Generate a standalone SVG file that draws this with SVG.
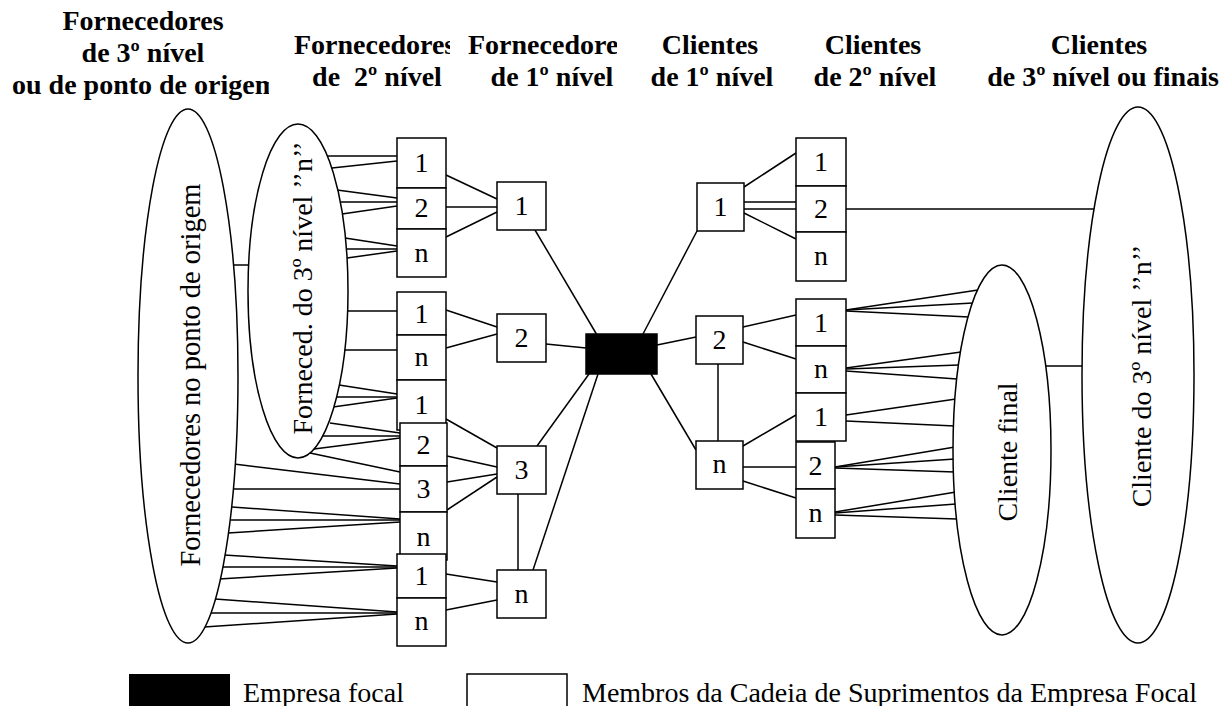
<svg xmlns="http://www.w3.org/2000/svg" width="1228" height="706" viewBox="0 0 1228 706">
<style>
.ln{stroke:#000;stroke-width:1.5;fill:none}
.bx{fill:#fff;stroke:#000;stroke-width:1.5}
.el{fill:#fff;stroke:#000;stroke-width:1.5}
.t{font-family:"Liberation Serif","Times New Roman",serif;font-size:28px;fill:#000}
.c{text-anchor:middle}
.h{font-weight:bold}
</style>
<defs>
<clipPath id="clip1"><rect x="0" y="0" width="269" height="110"/></clipPath>
<clipPath id="clip2"><rect x="280" y="0" width="170" height="110"/></clipPath>
<clipPath id="clip3"><rect x="460" y="0" width="157" height="110"/></clipPath>
</defs>
<rect width="1228" height="706" fill="#fff"/>

<g id="headers">
<text class="t h c" x="143" y="30">Fornecedores</text>
<text class="t h c" x="143" y="62">de 3º nível</text>
<text class="t h c" x="145" y="94" clip-path="url(#clip1)">ou de ponto de origem</text>
<text class="t h" x="294" y="54" clip-path="url(#clip2)">Fornecedores</text>
<text class="t h c" x="377" y="86" style="white-space:pre">de  2º nível</text>
<text class="t h" x="468" y="54" clip-path="url(#clip3)">Fornecedores</text>
<text class="t h c" x="552" y="86">de 1º nível</text>
<text class="t h c" x="710" y="54">Clientes</text>
<text class="t h c" x="712" y="86">de 1º nível</text>
<text class="t h c" x="873" y="54">Clientes</text>
<text class="t h c" x="875" y="86">de 2º nível</text>
<text class="t h c" x="1099" y="54">Clientes</text>
<text class="t h c" x="1103" y="86">de 3º nível ou finais</text>
</g>

<g id="connectors">
<line class="ln" x1="233" y1="265" x2="250" y2="265"/>
<line class="ln" x1="327" y1="156" x2="397" y2="156"/>
<line class="ln" x1="332" y1="168" x2="397" y2="161"/>
<line class="ln" x1="337" y1="190" x2="397" y2="198"/>
<line class="ln" x1="340" y1="202" x2="397" y2="202"/>
<line class="ln" x1="342" y1="214" x2="397" y2="206"/>
<line class="ln" x1="345" y1="238" x2="397" y2="246"/>
<line class="ln" x1="346" y1="249" x2="397" y2="249"/>
<line class="ln" x1="347" y1="258" x2="397" y2="251"/>
<line class="ln" x1="346" y1="311" x2="397" y2="311"/>
<line class="ln" x1="344" y1="350" x2="397" y2="350"/>
<line class="ln" x1="339" y1="385" x2="397" y2="394"/>
<line class="ln" x1="336" y1="397" x2="397" y2="397"/>
<line class="ln" x1="333" y1="407" x2="397" y2="398"/>
<line class="ln" x1="330" y1="423" x2="400" y2="433"/>
<line class="ln" x1="323" y1="436" x2="400" y2="436"/>
<line class="ln" x1="314" y1="449" x2="400" y2="438"/>
<line class="ln" x1="310" y1="453" x2="400" y2="472"/>
<line class="ln" x1="234" y1="464" x2="400" y2="484"/>
<line class="ln" x1="233" y1="489" x2="400" y2="489"/>
<line class="ln" x1="232" y1="507" x2="400" y2="519"/>
<line class="ln" x1="231" y1="520" x2="400" y2="520"/>
<line class="ln" x1="228" y1="533" x2="400" y2="522"/>
<line class="ln" x1="224" y1="555" x2="397" y2="566"/>
<line class="ln" x1="222" y1="567" x2="397" y2="567"/>
<line class="ln" x1="219" y1="579" x2="397" y2="568"/>
<line class="ln" x1="215" y1="599" x2="397" y2="612"/>
<line class="ln" x1="210" y1="613" x2="397" y2="613"/>
<line class="ln" x1="204" y1="627" x2="397" y2="614"/>
<line class="ln" x1="446" y1="175" x2="497" y2="199"/>
<line class="ln" x1="446" y1="207" x2="497" y2="207"/>
<line class="ln" x1="446" y1="237" x2="497" y2="212"/>
<line class="ln" x1="446" y1="310" x2="497" y2="327"/>
<line class="ln" x1="446" y1="348" x2="497" y2="334"/>
<line class="ln" x1="446" y1="419" x2="497" y2="448"/>
<line class="ln" x1="447" y1="456" x2="497" y2="467"/>
<line class="ln" x1="447" y1="482" x2="497" y2="474"/>
<line class="ln" x1="447" y1="510" x2="497" y2="477"/>
<line class="ln" x1="446" y1="574" x2="497" y2="582"/>
<line class="ln" x1="446" y1="610" x2="497" y2="600"/>
<line class="ln" x1="518" y1="494" x2="518" y2="570"/>
<line class="ln" x1="535" y1="230" x2="597" y2="335"/>
<line class="ln" x1="546" y1="344" x2="586" y2="348"/>
<line class="ln" x1="537" y1="446" x2="589" y2="374"/>
<line class="ln" x1="533" y1="570" x2="598" y2="374"/>
<line class="ln" x1="643" y1="334" x2="697" y2="231"/>
<line class="ln" x1="657" y1="345" x2="696" y2="337"/>
<line class="ln" x1="651" y1="374" x2="696" y2="450"/>
<line class="ln" x1="718" y1="364" x2="718" y2="441"/>
<line class="ln" x1="744" y1="187" x2="796" y2="153"/>
<line class="ln" x1="744" y1="202" x2="796" y2="202"/>
<line class="ln" x1="744" y1="209" x2="796" y2="209"/>
<line class="ln" x1="744" y1="213" x2="796" y2="239"/>
<line class="ln" x1="743" y1="327" x2="796" y2="315"/>
<line class="ln" x1="743" y1="342" x2="796" y2="359"/>
<line class="ln" x1="743" y1="446" x2="796" y2="415"/>
<line class="ln" x1="743" y1="467" x2="796" y2="467"/>
<line class="ln" x1="743" y1="481" x2="796" y2="498"/>
<line class="ln" x1="846" y1="209" x2="1096" y2="209"/>
<line class="ln" x1="1044" y1="366" x2="1084" y2="366"/>
<line class="ln" x1="846" y1="310" x2="978" y2="290"/>
<line class="ln" x1="846" y1="310" x2="973" y2="303"/>
<line class="ln" x1="846" y1="311" x2="969" y2="317"/>
<line class="ln" x1="846" y1="368" x2="961" y2="352"/>
<line class="ln" x1="846" y1="369" x2="959" y2="365"/>
<line class="ln" x1="846" y1="371" x2="957" y2="379"/>
<line class="ln" x1="846" y1="415" x2="956" y2="399"/>
<line class="ln" x1="846" y1="421" x2="955" y2="426"/>
<line class="ln" x1="835" y1="467" x2="955" y2="447"/>
<line class="ln" x1="835" y1="467" x2="955" y2="459"/>
<line class="ln" x1="835" y1="468" x2="955" y2="472"/>
<line class="ln" x1="835" y1="512" x2="956" y2="492"/>
<line class="ln" x1="835" y1="513" x2="956" y2="504"/>
<line class="ln" x1="835" y1="515" x2="957" y2="519"/>
</g>

<g id="origem">
<ellipse class="el" cx="188" cy="376" rx="50" ry="267"/>
<text class="t c" transform="translate(200,375) rotate(-90)" style="font-size:28.5px">Fornecedores no ponto de origem</text>
</g>
<g id="fornec3n">
<ellipse class="el" cx="298" cy="291" rx="50" ry="167"/>
<text class="t c" transform="translate(312,288) rotate(-90)">Forneced. do 3º nível ’’n’’</text>
</g>

<g id="f2a">
<rect class="bx" x="397" y="138" width="49" height="50"/>
<rect class="bx" x="397" y="188" width="49" height="41"/>
<rect class="bx" x="397" y="229" width="49" height="48"/>
<text class="t c" x="421.5" y="172">1</text>
<text class="t c" x="421.5" y="217">2</text>
<text class="t c" x="421.5" y="262">n</text>
</g>
<g id="f2b">
<rect class="bx" x="397" y="292" width="49" height="43"/>
<rect class="bx" x="397" y="335" width="49" height="45"/>
<rect class="bx" x="397" y="380" width="49" height="50"/>
<text class="t c" x="421.5" y="323">1</text>
<text class="t c" x="421.5" y="366">n</text>
<text class="t c" x="421.5" y="414">1</text>
</g>
<g id="f2c">
<rect class="bx" x="400" y="423" width="47" height="43"/>
<rect class="bx" x="400" y="466" width="47" height="46"/>
<rect class="bx" x="400" y="512" width="47" height="48"/>
<text class="t c" x="423.5" y="454">2</text>
<text class="t c" x="423.5" y="498">3</text>
<text class="t c" x="423.5" y="546">n</text>
</g>
<g id="f2d">
<rect class="bx" x="397" y="554" width="49" height="44"/>
<rect class="bx" x="397" y="598" width="49" height="48"/>
<text class="t c" x="421.5" y="585">1</text>
<text class="t c" x="421.5" y="630">n</text>
</g>

<g id="f1-1"><rect class="bx" x="497" y="182" width="49" height="48"/><text class="t c" x="521.5" y="215">1</text></g>
<g id="f1-2"><rect class="bx" x="497" y="314" width="49" height="48"/><text class="t c" x="521.5" y="347">2</text></g>
<g id="f1-3"><rect class="bx" x="497" y="446" width="49" height="48"/><text class="t c" x="521.5" y="479">3</text></g>
<g id="f1-n"><rect class="bx" x="497" y="570" width="49" height="48"/><text class="t c" x="521.5" y="603">n</text></g>

<g id="focal"><rect x="586" y="334" width="71" height="40" fill="#000" stroke="#000" stroke-width="1.5"/></g>

<g id="c1-1"><rect class="bx" x="697" y="183" width="47" height="48"/><text class="t c" x="720.5" y="216">1</text></g>
<g id="c1-2"><rect class="bx" x="696" y="316" width="47" height="48"/><text class="t c" x="719.5" y="349">2</text></g>
<g id="c1-n"><rect class="bx" x="696" y="441" width="47" height="48"/><text class="t c" x="719.5" y="473">n</text></g>

<g id="c2a">
<rect class="bx" x="796" y="138" width="50" height="48"/>
<rect class="bx" x="796" y="186" width="50" height="46"/>
<rect class="bx" x="796" y="232" width="50" height="49"/>
<text class="t c" x="821" y="171">1</text>
<text class="t c" x="821" y="218">2</text>
<text class="t c" x="821" y="265">n</text>
</g>
<g id="c2b">
<rect class="bx" x="796" y="299" width="50" height="47"/>
<rect class="bx" x="796" y="346" width="50" height="47"/>
<rect class="bx" x="796" y="393" width="50" height="48"/>
<text class="t c" x="821" y="332">1</text>
<text class="t c" x="821" y="378">n</text>
<text class="t c" x="821" y="426">1</text>
</g>
<g id="c2c">
<rect class="bx" x="796" y="442" width="39" height="47"/>
<rect class="bx" x="796" y="489" width="39" height="49"/>
<text class="t c" x="815.5" y="475">2</text>
<text class="t c" x="815.5" y="522">n</text>
</g>

<g id="clientefinal">
<ellipse class="el" cx="1002" cy="450" rx="49" ry="185"/>
<text class="t c" transform="translate(1017,452) rotate(-90)">Cliente final</text>
</g>
<g id="cliente3n">
<ellipse class="el" cx="1138" cy="375" rx="56" ry="268"/>
<text class="t c" transform="translate(1151,376) rotate(-90)">Cliente do 3º nível ’’n’’</text>
</g>

<g id="legend">
<rect x="129" y="674" width="101" height="40" fill="#000"/>
<text class="t" x="243" y="702">Empresa focal</text>
<rect class="bx" x="467" y="674" width="100" height="40"/>
<text class="t" x="582" y="702">Membros da Cadeia de Suprimentos da Empresa Focal</text>
</g>
</svg>
